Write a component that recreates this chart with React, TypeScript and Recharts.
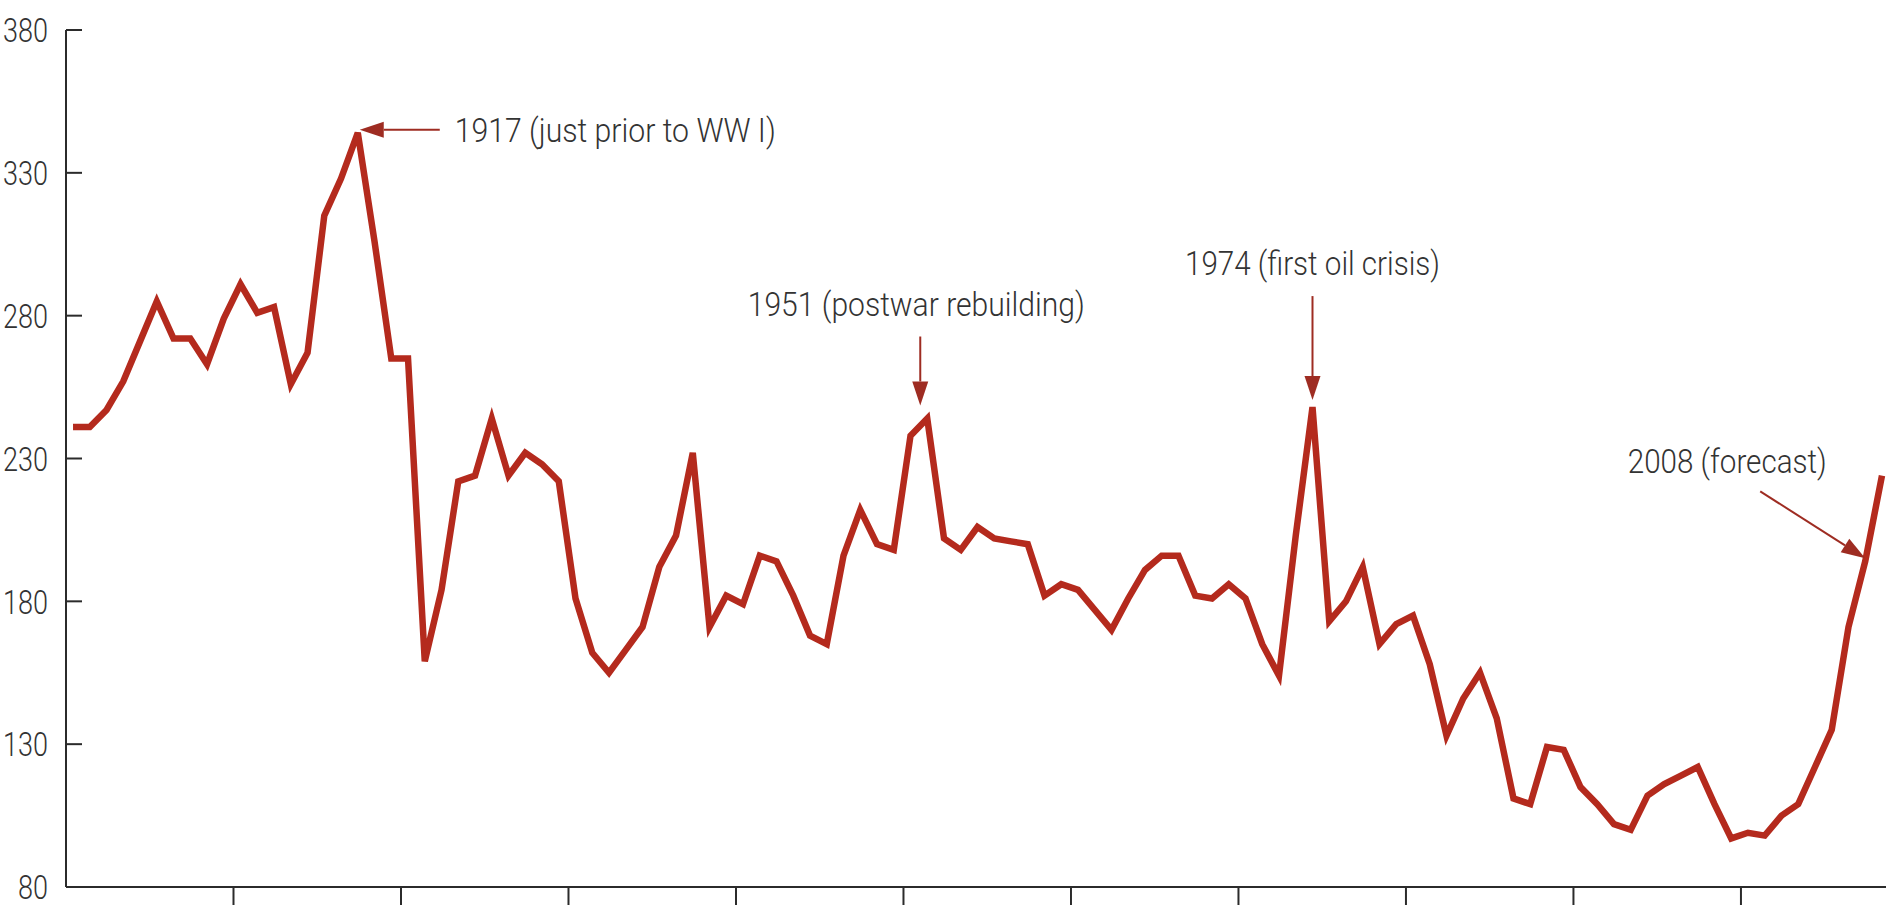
import React from 'react';
import { LineChart, Line, XAxis, YAxis, ReferenceDot } from 'recharts';

/* -------------------------------------------------------
   DATA
-------------------------------------------------------- */
const START_YEAR = 1900;

// index value, one point per year 1900..2008
const indexValues: number[] = [
  241, 241, 247, 257, 271, 285, 272, 272, 263, 279,
  291, 281, 283, 256, 267, 315, 328, 344, 306, 265,
  265, 159, 184, 222, 224, 244, 224, 232, 228, 222,
  181, 162, 155, 163, 171, 192, 203, 232, 171, 182,
  179, 196, 194, 182, 168, 165, 196, 212, 200, 198,
  238, 244, 202, 198, 206, 202, 201, 200, 182, 186,
  184, 177, 170, 181, 191, 196, 196, 182, 181, 186,
  181, 165, 154, 203, 248, 173, 180, 192, 165, 172,
  175, 158, 133, 146, 155, 139, 111, 109, 129, 128,
  115, 109, 102, 100, 112, 116, 119, 122, 109, 97,
  99, 98, 105, 109, 122, 135, 171, 194, 224,
];

const yTicks = [80, 130, 180, 230, 280, 330, 380];
const decadeTicks = [1910, 1920, 1930, 1940, 1950, 1960, 1970, 1980, 1990, 2000];

const annotationYears = [1917, 1951, 1974, 2007];
const annotationLabels = [
  '1917 (just prior to WW I)',
  '1951 (postwar rebuilding)',
  '1974 (first oil crisis)',
  '2008 (forecast)',
];

/* -------------------------------------------------------
   STYLE
-------------------------------------------------------- */
const LINE_COLOR = '#b42a1d';
const ARROW_COLOR = '#9e2c22';
const AXIS_COLOR = '#2b2b2b';
const TEXT_COLOR = '#333333';
const FONT = 'Roboto, "Liberation Sans", Arial, sans-serif';
const DIGIT_W = 15; // condensed digits

// year offset of the axis origin / tick marks relative to the data points
const TICK_SHIFT = 0.42;

// pixel layout for each annotation, relative to the point it refers to
type AnnLayout = {
  tail: [number, number];
  tip: [number, number];
  text: [number, number];
  anchor: 'start' | 'middle' | 'end';
  textWidth: number;
};

const annLayouts: AnnLayout[] = [
  { tail: [82, -3], tip: [2, -3], text: [97, -3], anchor: 'start', textWidth: 321 },
  { tail: [-7, -82], tip: [-7, -13], text: [-11, -114], anchor: 'middle', textWidth: 337 },
  { tail: [0, -111], tip: [0, -7], text: [0, -144], anchor: 'middle', textWidth: 255 },
  { tail: [-105, -70], tip: [0, -3], text: [-138, -100], anchor: 'middle', textWidth: 199 },
];

const chartData = indexValues.map((v, i) => ({ year: START_YEAR + i, value: v }));

/* -------------------------------------------------------
   PIECES
-------------------------------------------------------- */
const YTick = (props: any) => {
  const { x, y, payload } = props;
  const label = String(payload.value);
  return (
    <g>
      <line x1={x + 18} x2={x + 34} y1={y} y2={y} stroke={AXIS_COLOR} strokeWidth={2} />
      <text
        x={x}
        y={y}
        dy="0.36em"
        textAnchor="end"
        fill={TEXT_COLOR}
        fontFamily={FONT}
        fontWeight={300}
        fontSize={34}
        textLength={label.length * DIGIT_W}
        lengthAdjust="spacingAndGlyphs"
      >
        {label}
      </text>
    </g>
  );
};

const Annotation = ({ cx, cy, label, layout }: any) => {
  if (cx == null || cy == null) return null;
  const l: AnnLayout = layout;
  const x1 = cx + l.tail[0];
  const y1 = cy + l.tail[1];
  const x2 = cx + l.tip[0];
  const y2 = cy + l.tip[1];
  const ang = Math.atan2(y2 - y1, x2 - x1);
  const headLen = 24;
  const headHalf = 8;
  const bx = x2 - headLen * Math.cos(ang);
  const by = y2 - headLen * Math.sin(ang);
  const px = -Math.sin(ang) * headHalf;
  const py = Math.cos(ang) * headHalf;
  return (
    <g>
      <line x1={x1} y1={y1} x2={bx} y2={by} stroke={ARROW_COLOR} strokeWidth={2} />
      <polygon
        points={`${x2},${y2} ${bx + px},${by + py} ${bx - px},${by - py}`}
        fill={ARROW_COLOR}
      />
      <text
        x={cx + l.text[0]}
        y={cy + l.text[1]}
        dy="0.36em"
        textAnchor={l.anchor}
        fill={TEXT_COLOR}
        fontFamily={FONT}
        fontWeight={300}
        fontSize={33}
        textLength={l.textWidth}
        lengthAdjust="spacingAndGlyphs"
      >
        {label}
      </text>
    </g>
  );
};

/* -------------------------------------------------------
   COMPONENT
-------------------------------------------------------- */
export default function App() {
  return (
    <div style={{ position: 'absolute', left: 0, top: 0, width: 1886, height: 905, background: '#fff' }}>
      <LineChart
        width={1886}
        height={905}
        data={chartData}
        margin={{ top: 30, right: 0, bottom: 0, left: 0 }}
      >
        <XAxis
          type="number"
          dataKey="year"
          domain={[START_YEAR - TICK_SHIFT, 2008.24]}
          ticks={decadeTicks.map(t => t - TICK_SHIFT)}
          tickFormatter={() => ''}
          height={18}
          tickSize={18}
          tickLine={{ stroke: AXIS_COLOR, strokeWidth: 2 }}
          axisLine={{ stroke: AXIS_COLOR, strokeWidth: 2 }}
          allowDataOverflow
        />
        <YAxis
          type="number"
          domain={[80, 380]}
          ticks={yTicks}
          width={66}
          tickSize={0}
          tickMargin={18}
          tickLine={false}
          tick={<YTick />}
          axisLine={{ stroke: AXIS_COLOR, strokeWidth: 2 }}
          interval={0}
          allowDataOverflow
        />
        <Line
          type="linear"
          dataKey="value"
          stroke={LINE_COLOR}
          strokeWidth={6.5}
          strokeLinejoin="miter"
          dot={false}
          activeDot={false}
          isAnimationActive={false}
        />
        {annotationYears.map((yr, i) => (
          <ReferenceDot
            key={yr}
            x={yr}
            y={indexValues[yr - START_YEAR]}
            r={0}
            ifOverflow="visible"
            shape={(p: any) => (
              <Annotation cx={p.cx} cy={p.cy} label={annotationLabels[i]} layout={annLayouts[i]} />
            )}
          />
        ))}
      </LineChart>
    </div>
  );
}
